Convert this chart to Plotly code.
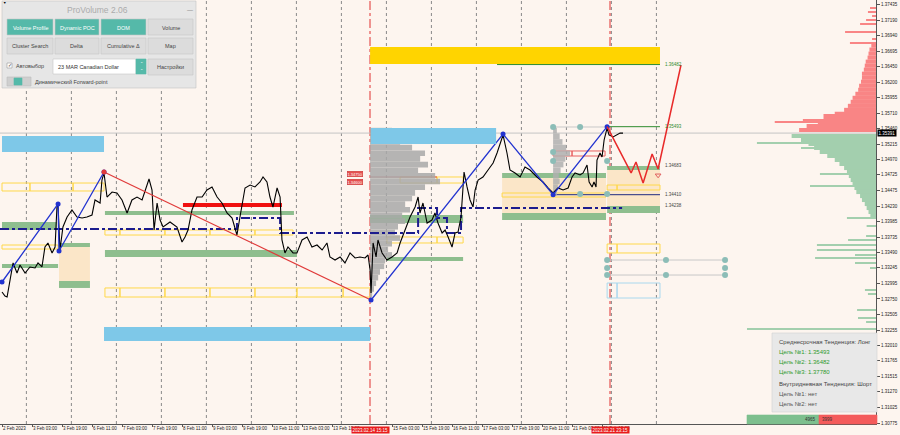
import plotly.graph_objects as go

# x axis = trading hours counted from 2 Feb 2023 11:00 (weekends removed, like the terminal does)
label_hours = [0, 16, 32, 48, 64, 80, 96, 112, 128, 144, 160, 176, 208, 224, 240, 256, 272, 288, 304, 320]
label_text = ["2 Feb 2023", "3 Feb 03:00", "3 Feb 19:00", "6 Feb 11:00", "7 Feb 03:00", "7 Feb 19:00",
              "8 Feb 11:00", "9 Feb 03:00", "9 Feb 19:00", "10 Feb 11:00", "13 Feb 03:00", "13 Feb 19:00",
              "15 Feb 03:00", "15 Feb 19:00", "16 Feb 11:00", "17 Feb 03:00", "17 Feb 19:00",
              "20 Feb 11:00", "21 Feb 03:00", "21 Feb 19:00"]
day_breaks = [13, 37, 61, 85, 109, 133, 157, 181, 205, 229, 253, 277, 301, 325, 349]
event_hours = [196.25, 324.25]
event_text = ["2023.02.14 15:15", "2023.02.21 23:15"]

price_ticks = [1.37435, 1.37190, 1.36940, 1.36695, 1.36450, 1.36200, 1.35955, 1.35710, 1.35460, 1.35215,
               1.34970, 1.34725, 1.34475, 1.34230, 1.33985, 1.33735, 1.33490, 1.33245, 1.32995, 1.32750,
               1.32505, 1.32255, 1.32010, 1.31765, 1.31515, 1.31270, 1.31025, 1.30775]
last_price = 1.35391

# USDCAD closes
close_time = [0, 1.6, 2.7, 4.3, 5.9, 8.0, 9.6, 12.3, 14.9, 17.6, 19.2, 21.3, 22.9, 24.5, 26.7, 28.3, 29.3, 29.9,
              30.4, 30.9, 32.5, 34.7, 37.3, 40.0, 42.7, 45.3, 48.0, 49.6, 52.3, 53.3, 54.4, 56.0, 58.7, 61.3,
              64.0, 66.7, 69.3, 72.0, 74.7, 77.3, 78.4, 80.0, 81.1, 82.7, 84.3, 85.9, 89.6, 93.3, 96.0, 97.6,
              99.2, 101.3, 104.0, 106.7, 109.3, 112.0, 114.7, 117.3, 120.0, 122.7, 124.3, 125.3, 126.9, 129.6,
              132.3, 134.9, 137.6, 139.2, 141.3, 142.9, 144.5, 146.7, 148.3, 149.3, 150.9, 152.5, 155.2, 157.3,
              160.0, 162.7, 165.3, 168.0, 170.7, 173.3, 174.9, 177.6, 180.3, 182.9, 185.6, 188.3, 190.9, 193.6,
              195.2, 196.3, 196.8, 197.9, 199.5, 200.5, 202.7, 205.3, 208.0, 210.7, 212.3, 214.9, 217.6, 220.3,
              221.9, 222.9, 224.5, 226.7, 229.3, 230.9, 232.5, 234.7, 236.3, 237.9, 240.0, 241.6, 243.2, 244.8,
              245.9, 246.4, 248.0, 249.6, 251.2, 252.3, 253.9, 256.5, 259.2, 261.9, 264.0, 265.6, 267.2, 269.3,
              270.9, 273.6, 276.3, 278.9, 281.6, 285.3, 288.5, 291.2, 293.9, 296.5, 299.2, 301.9, 304.0, 305.6,
              308.3, 309.9, 312.0, 313.1, 314.7, 315.7, 316.8, 317.3, 318.9, 320.0, 321.1, 322.7, 323.7, 325.9,
              328.0, 329.6, 331.2]
close_price = [1.32861, 1.32797, 1.32781, 1.33052, 1.33323, 1.33163, 1.33291, 1.33163, 1.33259, 1.33243,
               1.33323, 1.33259, 1.33577, 1.33641, 1.33482, 1.33577, 1.34214, 1.34246, 1.33768, 1.33530,
               1.33896, 1.34055, 1.34166, 1.34055, 1.34039, 1.34055, 1.34087, 1.34326, 1.34278, 1.34644,
               1.34756, 1.34373, 1.34453, 1.34437, 1.34326, 1.34119, 1.34326, 1.34373, 1.34326, 1.34564,
               1.34660, 1.34485, 1.33848, 1.34278, 1.34007, 1.33896, 1.33975, 1.33896, 1.33657, 1.33737,
               1.33848, 1.34166, 1.34373, 1.34373, 1.34485, 1.34533, 1.34373, 1.34278, 1.34119, 1.34039,
               1.33880, 1.33768, 1.34055, 1.34517, 1.34564, 1.34533, 1.34612, 1.34692, 1.34612, 1.34373,
               1.34214, 1.34517, 1.34373, 1.33689, 1.33482, 1.33577, 1.33482, 1.33482, 1.33689, 1.33737,
               1.33577, 1.33609, 1.33530, 1.33641, 1.33418, 1.33370, 1.33418, 1.33323, 1.33482, 1.33402,
               1.33418, 1.33402, 1.33450, 1.33211, 1.32845, 1.33641, 1.33418, 1.33689, 1.33482, 1.33370,
               1.33418, 1.33482, 1.33641, 1.33848, 1.34055, 1.34214, 1.34373, 1.34119, 1.34278, 1.33959,
               1.34007, 1.34119, 1.33959, 1.33800, 1.33848, 1.33737, 1.33577, 1.33800, 1.33816, 1.34055,
               1.34533, 1.34771, 1.34533, 1.34326, 1.34214, 1.34485, 1.34644, 1.34692, 1.34803, 1.34915,
               1.35074, 1.35233, 1.35361, 1.35074, 1.34803, 1.34756, 1.34692, 1.34851, 1.34803, 1.34692,
               1.34612, 1.34517, 1.34437, 1.34517, 1.34485, 1.34517, 1.34692, 1.34756, 1.34724, 1.34756,
               1.34883, 1.34612, 1.34533, 1.34612, 1.34533, 1.34962, 1.35074, 1.35010, 1.35281, 1.35472,
               1.35361, 1.35329, 1.35361, 1.35392, 1.35391]

# zigzag swings
zz_up1_time = [0, 29.9, 30.4, 54.4]
zz_up1_price = [1.33020, 1.34262, 1.33514, 1.34771]
zz_down_time = [54.4, 196.8]
zz_down_price = [1.34771, 1.32733]
zz_up2_time = [196.8, 267.2, 293.9, 322.7]
zz_up2_price = [1.32733, 1.35376, 1.34410, 1.35493]
forecast_time = [322.7, 335.5, 338.1, 341.9, 346.7, 349.9, 362.1]
forecast_price = [1.35493, 1.34756, 1.34931, 1.34596, 1.35058, 1.34819, 1.36475]

# stepped dynamic POC
poc_time = [-1.07, 125.3, 148.3, 221.9, 232.0, 237.3, 244.8, 330.7]
poc_price = [1.33864, 1.34039, 1.33800, 1.34198, 1.34039, 1.33800, 1.34198, 1.34198]

# zones: (t0, t1, low, high)
blue_zones = [(0, 54.4, 1.35090, 1.35345), (54.4, 196.3, 1.32081, 1.32304)]
blue_top_zone = [(196.8, 263.5, 1.35217, 1.35472)]
gold_zones = [(196.3, 350.9, 1.36491, 1.36762)]
green_zones = [(0, 29.3, 1.33848, 1.33975), (0, 29.9, 1.33243, 1.33307), (30.4, 46.9, 1.33577, 1.33641),
               (30.4, 46.9, 1.32925, 1.33036), (54.9, 155.7, 1.34087, 1.34151), (54.9, 157.3, 1.33418, 1.33530),
               (196.3, 245.9, 1.33959, 1.34087), (205.3, 245.9, 1.33354, 1.33418),
               (266.7, 322.1, 1.34676, 1.34756), (266.7, 322.1, 1.34007, 1.34119),
               (322.7, 350.9, 1.34803, 1.34867), (322.7, 350.9, 1.34119, 1.34230)]
peach_zones = [(30.4, 46.9, 1.33036, 1.33577), (266.7, 322.1, 1.34119, 1.34676), (322.7, 350.9, 1.34230, 1.34803)]
# outlined cells: (cell edges, low, high)
yellow_rows = [([0, 14.9, 37.9, 54.4], 1.34469, 1.34596), ([0, 29.9], 1.33545, 1.33609),
               ([54.9, 62.9, 86.9, 110.9, 134.9, 155.2], 1.33768, 1.33848),
               ([54.9, 62.9, 86.9, 110.9, 134.9, 157.3, 181.9, 196.3], 1.32781, 1.32925),
               ([212.3, 232.0, 245.9], 1.34596, 1.34692), ([205.3, 232.0, 245.9], 1.33641, 1.33737),
               ([266.7, 293.9, 322.1], 1.34373, 1.34437), ([322.7, 328.0, 350.9], 1.34485, 1.34564),
               ([322.7, 328.0, 350.9], 1.33482, 1.33625)]
blue_rows = [([322.7, 328.0, 350.9], 1.32765, 1.33004)]
red_rows = [([293.9, 304.0, 321.6], 1.35026, 1.35106)]
red_level = (96.5, 149.3, 1.34246)
red_poc = (196.3, 232.0, 1.34692)

# target lines and markers
target_levels = [("1.36482", 264.0, 1.36482, "#2E8B2E"), ("1.35493", 322.7, 1.35493, "#2E8B2E"),
                 ("1.34410", 293.9, 1.34410, "#1F2A80")]
level_labels = [("1.36482", 1.36482, "#2E8B2E"), ("1.35493", 1.35493, "#2E8B2E"), ("1.34683", 1.34867, "#444444"),
                ("1.34410", 1.34410, "#444444"), ("1.34238", 1.34238, "#444444")]
dot_time = [293.9, 308.3, 293.9, 293.9, 322.7, 308.3, 322.7, 322.7, 354.1, 385.6, 322.7, 385.6, 322.7, 354.1, 385.6]
dot_price = [1.35488, 1.35488, 1.35090, 1.34947, 1.34947, 1.34421, 1.34421, 1.33370, 1.33370, 1.33370,
             1.33243, 1.33243, 1.33131, 1.33131, 1.33131]
profile_tags = [("1.34750", 1.34740), ("1.34600", 1.34612)]

# session volume profile (left edge at the 14 Feb line)
vp_price = [1.3543, 1.3534, 1.3525, 1.3516, 1.3507, 1.3498, 1.3489, 1.3480, 1.3471, 1.3462, 1.3453, 1.3444,
            1.3435, 1.3426, 1.3417, 1.3408, 1.3399, 1.3390, 1.3381, 1.3372, 1.3363, 1.3354, 1.3345, 1.3336,
            1.3327, 1.3318, 1.3309, 1.3300, 1.3291, 1.3282]
vp_size = [11.7, 13.3, 16.0, 22.4, 29.3, 26.7, 30.9, 25.6, 34.7, 37.3, 29.3, 24.0, 22.4, 18.7, 21.3, 17.1,
           18.7, 14.9, 13.3, 16.0, 11.7, 9.6, 11.7, 8.0, 7.5, 5.3, 4.3, 3.2, 2.1, 1.1]
vp2_price = [1.3543, 1.3534, 1.3525, 1.3516, 1.3507, 1.3498, 1.3489, 1.3480, 1.3471, 1.3462, 1.3453, 1.3444]
vp2_size = [2.0, 3.5, 5.0, 7.0, 9.0, 6.5, 5.5, 4.0, 3.0, 3.5, 2.5, 2.0]

# order book on the right edge
ask_price = [1.35440, 1.35504, 1.35568, 1.35632, 1.35696, 1.35760, 1.35824, 1.35888, 1.35952, 1.36016, 1.36080,
             1.36144, 1.36208, 1.36272, 1.36336, 1.36400, 1.36464, 1.36528, 1.36592, 1.36656, 1.36720, 1.36784]
ask_size = [41, 37, 31, 28, 22, 17, 15, 13.5, 12.5, 11, 9.5, 9, 8, 7.5, 7.5, 6.5, 6, 5.5, 4.5, 4, 3.5, 2.5]
ask_line_price = [1.35568, 1.35600, 1.35680, 1.36826, 1.36889, 1.37001, 1.37128, 1.37192, 1.37255, 1.37319, 1.37383]
ask_line_size = [54, 39, 28, 13.9, 2.1, 16.5, 8.5, 5.3, 2.1, 4.3, 3.2]
bid_price = [1.35345, 1.35281, 1.35217, 1.35154, 1.35090, 1.35026, 1.34962, 1.34899, 1.34835, 1.34771, 1.34708,
             1.34644, 1.34580, 1.34517, 1.34453, 1.34389, 1.34326, 1.34262, 1.34198, 1.34135, 1.34071]
bid_size = [45, 40, 36, 33, 30, 26, 22, 19.5, 17, 15.5, 14.5, 13.5, 12.5, 11.5, 10.5, 8.5, 7.5, 6, 5, 4, 3]
bid_line_price = [1.35233, 1.35154, 1.34740, 1.34549, 1.34039, 1.33912, 1.33752, 1.33689, 1.33609, 1.33530,
                  1.33450, 1.33402, 1.33323, 1.33243, 1.32893, 1.32829, 1.32574, 1.32447, 1.32383, 1.32272]
bid_line_size = [63.5, 40, 29.9, 35.2, 15.5, 5, 5.3, 14.9, 31.5, 31.5, 11.2, 32.5, 11.2, 3.2, 5.9, 4.3, 10.1,
                 9.6, 5.3, 68.8]
buy_volume, sell_volume = 4965, 3999

trend_lines = [("Среднесрочная Тенденция: Лонг", "#444444"), ("Цель №1: 1.35493", "#2E9A2E"),
               ("Цель №2: 1.36482", "#2E9A2E"), ("Цель №3: 1.37780", "#2E9A2E"),
               ("Внутридневная Тенденция: Шорт", "#444444"), ("Цель №1: нет", "#555555"),
               ("Цель №2: нет", "#555555")]

BG = "#FDF5EF"
T_LEFT, T_RIGHT = -1.07, 466.1
P_LOW, P_HIGH = 1.30759, 1.37510
W, H = 876, 424   # plot area size in pixels, used for the panel overlays
FONT = "Liberation Sans"

fig = go.Figure()
shapes = []
notes = []


def box(t0, t1, lo, hi, fill, line=None, layer="below", lw=1):
    shapes.append(dict(type="rect", x0=t0, x1=t1, y0=lo, y1=hi, xref="x", yref="y", fillcolor=fill,
                       line=dict(color=line or fill, width=lw if line else 0), layer=layer))


def hline(t0, t1, p, color, width=1, dash="solid", layer="below"):
    shapes.append(dict(type="line", x0=t0, x1=t1, y0=p, y1=p, xref="x", yref="y",
                       line=dict(color=color, width=width, dash=dash), layer=layer))


def prect(x0, y0, x1, y1, fill, line=None, lw=0.6):
    shapes.append(dict(type="rect", xref="paper", yref="paper", x0=x0 / W, x1=x1 / W, y0=1 - y1 / H, y1=1 - y0 / H,
                       fillcolor=fill, line=dict(color=line or fill, width=lw), layer="above"))


def ptext(x, y, text, size, color, anchor="center"):
    notes.append(dict(xref="paper", yref="paper", x=x / W, y=1 - y / H, text=text, showarrow=False,
                      xanchor=anchor, yanchor="middle", font=dict(size=size, color=color, family=FONT)))


# day separators and event lines
for t in day_breaks:
    shapes.append(dict(type="line", x0=t, x1=t, y0=0, y1=1, xref="x", yref="paper",
                       line=dict(color="#8A8A8A", width=1, dash="dot"), layer="below"))
for t in event_hours:
    shapes.append(dict(type="line", x0=t, x1=t, y0=0, y1=1, xref="x", yref="paper",
                       line=dict(color="#E03030", width=1, dash="dashdot"), layer="below"))
shapes.append(dict(type="line", x0=0, x1=1, y0=last_price, y1=last_price, xref="paper", yref="y",
                   line=dict(color="#C4C4C4", width=1), layer="below"))

for z in blue_zones:
    box(*z, "#7EC8E8")
for z in gold_zones:
    box(*z, "#FFD400")
for z in peach_zones:
    box(*z, "#FBE6C8")
for z in green_zones:
    box(*z, "#8EBE8E")
for edges, lo, hi in yellow_rows:
    for a, b in zip(edges[:-1], edges[1:]):
        box(a, b, lo, hi, "rgba(0,0,0,0)", "#FFD84A")
for edges, lo, hi in blue_rows:
    for a, b in zip(edges[:-1], edges[1:]):
        box(a, b, lo, hi, "rgba(0,0,0,0)", "#A9D8EE")
for edges, lo, hi in red_rows:
    for a, b in zip(edges[:-1], edges[1:]):
        box(a, b, lo, hi, "rgba(0,0,0,0)", "#E86060")
hline(red_level[0], red_level[1], red_level[2], "#F01010", width=4)
hline(red_poc[0], red_poc[1], red_poc[2], "#D84040", width=1)
for name, t0, p, color in target_levels:
    hline(t0, 350.9, p, color, width=1)
hline(293.9, 322.7, dot_price[0], "#C8C8C8")
hline(322.7, 385.6, dot_price[7], "#C8C8C8")
hline(322.7, 385.6, dot_price[12], "#C8C8C8")

# volume profiles
fig.add_trace(go.Bar(y=vp_price, x=vp_size, base=196.3, orientation="h", width=0.0009,
                     marker=dict(color="#A9A9A9", line=dict(width=0)), opacity=0.85))
fig.add_trace(go.Bar(y=vp2_price, x=vp2_size, base=293.9, orientation="h", width=0.0009,
                     marker=dict(color="#B0B0B0", line=dict(width=0)), opacity=0.85))
# order book anchored to the right edge
fig.add_trace(go.Bar(y=ask_price, x=[-s for s in ask_size], base=T_RIGHT, orientation="h", width=0.00066,
                     marker=dict(color="#F98585", line=dict(width=0))))
fig.add_trace(go.Bar(y=ask_line_price, x=[-s for s in ask_line_size], base=T_RIGHT, orientation="h", width=0.00017,
                     marker=dict(color="#F98585", line=dict(width=0))))
fig.add_trace(go.Bar(y=bid_price, x=[-s for s in bid_size], base=T_RIGHT, orientation="h", width=0.00066,
                     marker=dict(color="#A3CFAE", line=dict(width=0))))
fig.add_trace(go.Bar(y=bid_line_price, x=[-s for s in bid_line_size], base=T_RIGHT, orientation="h", width=0.00017,
                     marker=dict(color="#A3CFAE", line=dict(width=0))))

# blue box drawn over the profile
for z in blue_top_zone:
    box(*z, "#7EC8E8", layer="above")

fig.add_trace(go.Scatter(x=poc_time, y=poc_price, mode="lines", line_shape="hv",
                         line=dict(color="#1C1C8E", width=2, dash="dashdot")))
fig.add_trace(go.Scatter(x=close_time, y=close_price, mode="lines", line=dict(color="#000000", width=1.1)))
fig.add_trace(go.Scatter(x=zz_down_time, y=zz_down_price, mode="lines", line=dict(color="#E03A3A", width=1.2)))
for tt, pp in [(zz_up1_time, zz_up1_price), (zz_up2_time, zz_up2_price)]:
    fig.add_trace(go.Scatter(x=tt, y=pp, mode="lines+markers", line=dict(color="#2233D0", width=1.3),
                             marker=dict(color="#2233D0", size=5)))
fig.add_trace(go.Scatter(x=[zz_down_time[0]], y=[zz_down_price[0]], mode="markers",
                         marker=dict(color="#E03A3A", size=5)))
fig.add_trace(go.Scatter(x=forecast_time, y=forecast_price, mode="lines", line=dict(color="#E82A2A", width=1.5)))
fig.add_trace(go.Scatter(x=dot_time, y=dot_price, mode="markers", marker=dict(color="#8CBDB7", size=6)))
fig.add_trace(go.Scatter(x=[forecast_time[5]], y=[forecast_price[5] - 0.0010], mode="markers",
                         marker=dict(color="#E06060", size=5, symbol="triangle-down-open")))

for text, p, color in level_labels:
    notes.append(dict(x=352.5, y=p, xref="x", yref="y", text=text, showarrow=False, xanchor="left",
                      font=dict(size=4.5, color=color, family=FONT)))
for text, p in profile_tags:
    notes.append(dict(x=188.3, y=p, xref="x", yref="y", text=text, showarrow=False, bgcolor="#E55050",
                      bordercolor="#C83030", borderwidth=0.5, borderpad=0, font=dict(size=4, color="white", family=FONT)))
for t, text in zip(event_hours, event_text):
    notes.append(dict(x=t, y=0, xref="x", yref="paper", yanchor="top", yshift=-2, text=text, showarrow=False,
                      bgcolor="#E81C1C", borderpad=0.5, font=dict(size=4.5, color="white", family=FONT)))
notes.append(dict(x=1, y=last_price, xref="paper", yref="y", xanchor="left", xshift=1, text=f"{last_price:.5f}",
                  showarrow=False, bgcolor="#000000", borderpad=0.5, font=dict(size=4.5, color="white", family=FONT)))

# ProVolume panel
prect(2, 1, 196, 88, "#E6E6E6", "#C4C4C4")
ptext(97, 10, "ProVolume 2.06", 8.5, "#ABABAB")
ptext(190, 10, "—", 6, "#777777")
ptext(4, 3, "▼", 3.5, "#000000")
teal = "#55B9A9"
btn_x = [(7, 53), (55, 99), (101, 146), (148, 193)]
row1 = [("Volume Profile", teal), ("Dynamic POC", teal), ("DOM", teal), ("Volume", "#DCDCDC")]
row2 = ["Cluster Search", "Delta", "Cumulative Δ", "Map"]
for (x0, x1), (text, fill) in zip(btn_x, row1):
    prect(x0, 19, x1, 35, fill, "#C6C6C6")
    ptext((x0 + x1) / 2, 28, text, 5.5, "white" if fill == teal else "#444444")
for (x0, x1), text in zip(btn_x, row2):
    prect(x0, 38, x1, 54, "#DCDCDC", "#C6C6C6")
    ptext((x0 + x1) / 2, 46, text, 5.5, "#444444")
prect(7, 63, 12, 68, "#FFFFFF", "#999999")
ptext(9.5, 65, "✓", 5, "#333333")
ptext(14, 66, "Автовыбор", 5.5, "#444444", "left")
prect(53, 59, 136, 74, "#FFFFFF", "#C6C6C6")
ptext(56, 67, "23 MAR Canadian Dollar", 5.5, "#333333", "left")
prect(136, 59, 146, 74, teal)
ptext(141, 66.5, "⌃<br>⌄", 3.5, "white")
prect(148, 59, 193, 75, "#DCDCDC", "#C6C6C6")
ptext(170.5, 67, "Настройки", 5.5, "#444444")
prect(7, 77, 31, 86, "#CFCFCF", "#BDBDBD")
prect(14, 78, 22, 85, teal)
ptext(33, 81.5, "Динамический Forward-point", 5.5, "#444444", "left")

# trend box and buy/sell bar
prect(772, 333, 877, 412, "#E8E8E8", "#D2D2D2")
for i, (text, color) in enumerate(trend_lines):
    ptext(777, [342, 352, 362, 372, 384, 394, 404][i], text, 6, color, "left")
split = 747 + 130 * buy_volume / (buy_volume + sell_volume)
prect(747, 415, split, 424, "#7DBF8E")
prect(split, 415, 877, 424, "#F45B5B")
ptext(split - 1, 419.5, str(buy_volume), 4.5, "#333333", "right")
ptext(split + 1, 419.5, str(sell_volume), 4.5, "#333333", "left")

fig.update_layout(
    width=900, height=435, margin=dict(l=0, r=24, t=0, b=11, autoexpand=False),
    paper_bgcolor=BG, plot_bgcolor=BG, showlegend=False, barmode="overlay",
    font=dict(family=FONT, size=4.5, color="#222222"),
    shapes=shapes, annotations=notes,
    xaxis=dict(range=[T_LEFT, T_RIGHT], showgrid=False, zeroline=False, showline=True, mirror=True,
               linecolor="#555555", linewidth=1, tickvals=label_hours, ticktext=label_text, tickangle=0,
               ticks="outside", ticklen=2, tickcolor="#555555", ticklabelposition="outside right",
               automargin=False, tickfont=dict(size=4.5, color="#222222")),
    yaxis=dict(range=[P_LOW, P_HIGH], side="right", showgrid=False, zeroline=False, showline=True, mirror=True,
               linecolor="#555555", linewidth=1, tickvals=price_ticks, ticktext=[f"{v:.5f}" for v in price_ticks],
               ticks="outside", ticklen=3, tickcolor="#555555", automargin=False,
               tickfont=dict(size=4.5, color="#222222")),
)

# the page's default 8px body margin would push the chart off the window
fig.write_html("out.html", config={"displayModeBar": False},
               post_script="document.body.style.margin='0';")
